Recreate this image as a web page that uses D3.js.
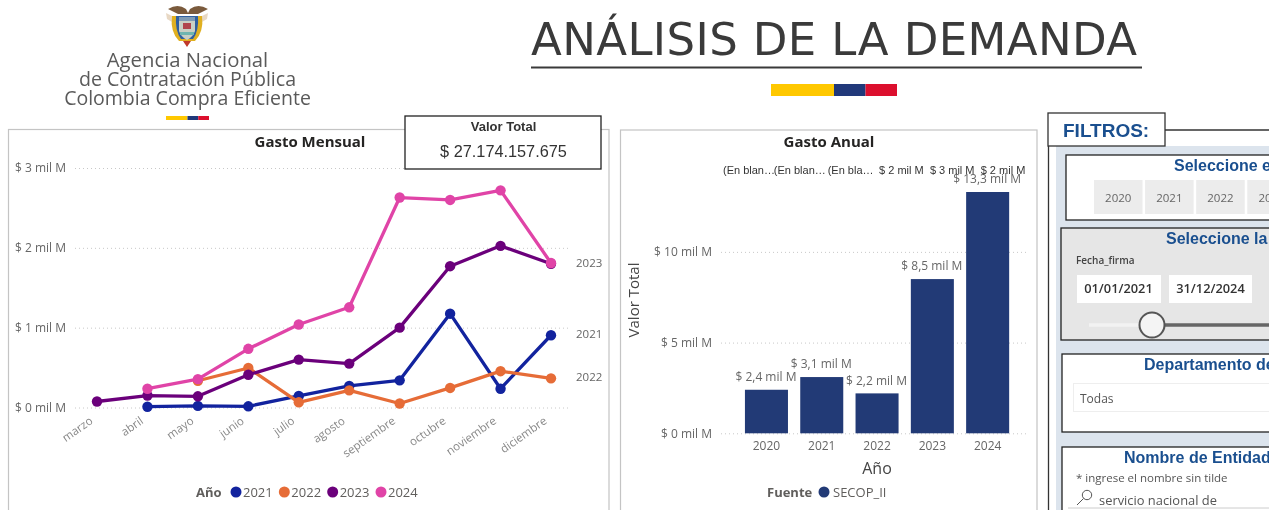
<!DOCTYPE html>
<html>
<head>
<meta charset="utf-8">
<script src="https://cdn.jsdelivr.net/npm/d3@7"></script>
<style>
  html, body { margin: 0; padding: 0; background: #fff; overflow: hidden; }
  svg { display: block; filter: blur(0.45px); }
  text { font-family: "Open Sans", "Noto Sans", sans-serif; }
  .arial { font-family: "Liberation Sans", Arial, sans-serif; }
  .grid line { stroke: #c8c8c8; stroke-dasharray: 1 3; }
  .axis text { fill: #666; font-size: 12px; }
</style>
</head>
<body>
<script>
const months = ["marzo", "abril", "mayo", "junio", "julio", "agosto", "septiembre", "octubre", "noviembre", "diciembre"];
const values2021 = [null, 0.01, 0.02, 0.015, 0.145, 0.27, 0.34, 1.175, 0.235, 0.905];
const values2022 = [null, null, 0.335, 0.495, 0.065, 0.215, 0.05, 0.245, 0.455, 0.365];
const values2023 = [0.075, 0.15, 0.14, 0.41, 0.6, 0.55, 1.0, 1.77, 2.025, 1.8];
const values2024 = [null, 0.235, 0.355, 0.735, 1.04, 1.255, 2.63, 2.6, 2.72, 1.81];
const monthlyTicks = [0, 1, 2, 3];

const years = ["2020", "2021", "2022", "2023", "2024"];
const yearTotals = [2.4, 3.1, 2.2, 8.5, 13.3];
const yearlyTicks = [0, 5, 10];
const cardLabels = ["(En blan…", "(En blan…", "(En bla…", "$ 2 mil M", "$ 3 mil M", "$ 2 mil M"];

const sliceYears = ["2020", "2021", "2022", "2023"];

const lineColors = { 2021: "#12239e", 2022: "#e66c37", 2023: "#6b007b", 2024: "#e044a7" };
const endLabelled = ["2021", "2022", "2023"];

const svg = d3.select("body").append("svg").attr("width", 1278).attr("height", 510);

function label(parent, str, x, y, size, fill, opts) {
  opts = opts || {};
  return parent.append("text")
    .attr("class", opts.cls || null)
    .attr("x", x)
    .attr("y", y)
    .attr("dy", "0.35em")
    .attr("font-size", size)
    .attr("font-weight", opts.weight || null)
    .attr("text-anchor", opts.anchor || "start")
    .attr("fill", fill)
    .text(str);
}

function box(parent, x, y, w, h, fill, stroke, sw) {
  return parent.append("rect")
    .attr("x", x).attr("y", y).attr("width", w).attr("height", h)
    .attr("fill", fill).attr("stroke", stroke || "none").attr("stroke-width", sw || 0);
}

function flag(parent, x, y, w, h) {
  box(parent, x, y, w / 2, h, "#ffc800");
  box(parent, x + w / 2, y, w / 4, h, "#21397a");
  box(parent, x + (w * 3) / 4, y, w / 4, h, "#dc0f2e");
}

// Header
const emblem = svg.append("g");
emblem.append("path").attr("d", "M168 9 Q178 3 186 9 L188 13 L190 9 Q198 3 208 9 L198 14 L178 14 Z").attr("fill", "#7a5a3c");
emblem.append("path").attr("d", "M166 13 L174 17 L172 22 L167 19 Z").attr("fill", "#e8d8c4");
emblem.append("path").attr("d", "M208 13 L200 17 L202 22 L207 19 Z").attr("fill", "#e8d8c4");
emblem.append("path").attr("d", "M172 16 L202 16 Q204 32 195 41 L179 41 Q170 32 172 16 Z").attr("fill", "#e0b020");
emblem.append("path").attr("d", "M176 16 L198 16 Q199 31 193 39 L181 39 Q175 31 176 16 Z").attr("fill", "#2f5fa0");
emblem.append("path").attr("d", "M179 17 L195 17 L195 31 Q193 37 187 40 Q181 37 179 31 Z").attr("fill", "#c9cfc4");
box(emblem, 179, 17, 16, 4, "#7f9bb5");
box(emblem, 183, 23, 8, 6, "#b0444c");
box(emblem, 180, 32, 14, 3, "#6fb5b0");
emblem.append("path").attr("d", "M183 41 L191 41 L187 47 Z").attr("fill", "#c0392b");

const logoLines = [
  { text: "Agencia Nacional", y: 60, size: 20.3 },
  { text: "de Contratación Pública", y: 79, size: 19.6 },
  { text: "Colombia Compra Eficiente", y: 98, size: 19.5 },
];
logoLines.forEach((l) => label(svg, l.text, 187.5, l.y, l.size, "#5a5a5a", { anchor: "middle", weight: 500 }));
flag(svg, 166, 116, 43, 4);

svg.append("text")
  .attr("x", 531).attr("y", 55)
  .attr("font-size", 45)
  .attr("fill", "#3a3a3a")
  .attr("textLength", 606)
  .attr("lengthAdjust", "spacing")
  .style("font-family", '"DejaVu Sans", sans-serif')
  .text("ANÁLISIS DE LA DEMANDA");
svg.append("line").attr("x1", 531).attr("x2", 1142).attr("y1", 67.5).attr("y2", 67.5).attr("stroke", "#3a3a3a").attr("stroke-width", 2);
flag(svg, 771, 84, 126, 12);

// Gasto Mensual
box(svg, 8.5, 129.5, 600.5, 400, "#fff", "#c4c4c4", 1.2);
label(svg, "Gasto Mensual", 310, 142, 15, "#252423", { anchor: "middle", weight: 700 });

const xMonth = d3.scalePoint().domain(months).range([97, 551]);
const yMonth = d3.scaleLinear().domain([0, 3]).range([407.5, 168]);

const monthlyAxis = svg.append("g").attr("class", "axis grid").attr("transform", "translate(75,0)")
  .call(d3.axisLeft(yMonth).tickValues(monthlyTicks).tickSize(-495).tickPadding(9).tickFormat((d) => "$ " + d + " mil M"));
monthlyAxis.select(".domain").remove();

const monthAxis = svg.append("g").attr("class", "axis").attr("transform", "translate(-9,410)")
  .call(d3.axisBottom(xMonth).tickSize(0));
monthAxis.select(".domain").remove();
monthAxis.selectAll("text")
  .attr("text-anchor", "end")
  .style("fill", "#888")
  .style("font-size", "11.5px")
  .attr("dx", "-3")
  .attr("dy", "0.9em")
  .attr("transform", "rotate(-35)");

const monthlySeries = [
  { year: "2021", values: values2021 },
  { year: "2022", values: values2022 },
  { year: "2023", values: values2023 },
  { year: "2024", values: values2024 },
];

const line = d3.line()
  .defined((d) => d.value !== null)
  .x((d) => xMonth(d.month))
  .y((d) => yMonth(d.value));

monthlySeries.forEach(function (s) {
  const pts = s.values.map((v, i) => ({ month: months[i], value: v }));
  const g = svg.append("g");
  g.append("path")
    .datum(pts)
    .attr("d", line)
    .attr("fill", "none")
    .attr("stroke", lineColors[s.year])
    .attr("stroke-width", 3.3)
    .attr("stroke-linejoin", "round");
  g.selectAll("circle")
    .data(pts.filter((d) => d.value !== null))
    .join("circle")
    .attr("cx", (d) => xMonth(d.month))
    .attr("cy", (d) => yMonth(d.value))
    .attr("r", 5.2)
    .attr("fill", lineColors[s.year]);
  if (endLabelled.includes(s.year)) {
    label(svg, s.year, xMonth("diciembre") + 25, yMonth(s.values[s.values.length - 1]) - 1, 11.5, "#666");
  }
});

label(svg, "Año", 196, 492, 13, "#605e5c", { weight: 700 });
const legendX = d3.scalePoint().domain(Object.keys(lineColors)).range([236, 381]);
Object.keys(lineColors).forEach(function (y) {
  svg.append("circle").attr("cx", legendX(y)).attr("cy", 492).attr("r", 5.5).attr("fill", lineColors[y]);
  label(svg, y, legendX(y) + 7, 492, 13, "#605e5c");
});

// Valor Total card
box(svg, 405, 116, 196, 53, "#fff", "#222", 1.3);
label(svg, "Valor Total", 503.5, 126, 13, "#333", { anchor: "middle", weight: 700, cls: "arial" });
label(svg, "$ 27.174.157.675", 503.5, 151, 16.3, "#333", { anchor: "middle", cls: "arial" });

// Gasto Anual
box(svg, 620.5, 130, 416.5, 400, "#fff", "#c4c4c4", 1.2);
label(svg, "Gasto Anual", 829, 142, 15, "#252423", { anchor: "middle", weight: 700 });

const xYear = d3.scaleBand().domain(years).range([738.8, 1015.3]).paddingInner(0.222).paddingOuter(0.111);
const yYear = d3.scaleLinear().domain([0, 13.3]).range([433.3, 192]);

const yearlyAxis = svg.append("g").attr("class", "axis grid").attr("transform", "translate(721,0)")
  .call(d3.axisLeft(yYear).tickValues(yearlyTicks).tickSize(-305).tickPadding(9).tickFormat((d) => "$ " + d + " mil M"));
yearlyAxis.select(".domain").remove();

const yearAxis = svg.append("g").attr("class", "axis").attr("transform", "translate(0,438)")
  .call(d3.axisBottom(xYear).tickSize(0));
yearAxis.select(".domain").remove();

svg.append("g").selectAll("rect")
  .data(yearTotals)
  .join("rect")
  .attr("x", (d, i) => xYear(years[i]))
  .attr("y", (d) => yYear(d))
  .attr("width", xYear.bandwidth())
  .attr("height", (d) => yYear(0) - yYear(d))
  .attr("fill", "#223a76");

svg.append("g").selectAll("text")
  .data(yearTotals)
  .join("text")
  .attr("x", (d, i) => xYear(years[i]) + xYear.bandwidth() / 2 - 0.5)
  .attr("y", (d) => yYear(d) - 13)
  .attr("dy", "0.35em")
  .attr("text-anchor", "middle")
  .attr("font-size", 12)
  .attr("fill", "#666")
  .text((d) => "$ " + String(d).replace(".", ",") + " mil M");

const xCard = d3.scalePoint().domain(d3.range(cardLabels.length)).range([749, 1003]);
svg.append("g").selectAll("text")
  .data(cardLabels)
  .join("text")
  .attr("class", "arial")
  .attr("x", (d, i) => xCard(i))
  .attr("y", 170)
  .attr("dy", "0.35em")
  .attr("text-anchor", "middle")
  .attr("font-size", 11)
  .attr("fill", "#333")
  .text((d) => d);

svg.append("text")
  .attr("transform", "translate(634,300) rotate(-90)")
  .attr("dy", "0.35em")
  .attr("text-anchor", "middle")
  .attr("font-size", 15)
  .attr("fill", "#444")
  .text("Valor Total");
label(svg, "Año", 877, 468, 16, "#444", { anchor: "middle" });
label(svg, "Fuente", 767, 492, 13, "#605e5c", { weight: 700 });
svg.append("circle").attr("cx", 824).attr("cy", 492).attr("r", 5.5).attr("fill", "#223a76");
label(svg, "SECOP_II", 833, 492, 13, "#605e5c");

// Filtros panel
box(svg, 1056, 146, 222, 364, "#dce4ed");
svg.append("line").attr("x1", 1048.5).attr("x2", 1048.5).attr("y1", 146).attr("y2", 510).attr("stroke", "#333").attr("stroke-width", 1.3);
svg.append("line").attr("x1", 1165).attr("x2", 1278).attr("y1", 130).attr("y2", 130).attr("stroke", "#333").attr("stroke-width", 1.3);
box(svg, 1048, 113, 117, 33, "#fff", "#333", 1.3);
label(svg, "FILTROS:", 1063, 130, 19, "#1a4f8f", { weight: 700, cls: "arial" });

const blue = "#1a4f8f";

box(svg, 1066, 155, 220, 65, "#fff", "#222", 1.3);
label(svg, "Seleccione el año", 1174, 165, 16, blue, { weight: 700, cls: "arial" });
const xSlice = d3.scaleBand().domain(d3.range(6)).range([1094, 1398]).paddingInner(0.05);
sliceYears.forEach(function (y, i) {
  box(svg, xSlice(i), 180, xSlice.bandwidth(), 34, "#ececec");
  label(svg, y, xSlice(i) + xSlice.bandwidth() / 2, 198, 11.5, "#666", { anchor: "middle" });
});

box(svg, 1061, 228, 225, 112, "#e6e6e6", "#222", 1.3);
label(svg, "Seleccione la fecha", 1166, 238.5, 16, blue, { weight: 700, cls: "arial" });
label(svg, "Fecha_firma", 1076, 260, 10, "#444", { weight: 600 });
box(svg, 1077, 275, 84, 28, "#fff");
box(svg, 1169, 275, 83, 28, "#fff");
label(svg, "01/01/2021", 1118.5, 289, 12.8, "#333", { anchor: "middle", weight: 600 });
label(svg, "31/12/2024", 1210.5, 289, 12.8, "#333", { anchor: "middle", weight: 600 });
svg.append("line").attr("x1", 1089).attr("x2", 1152).attr("y1", 325).attr("y2", 325).attr("stroke", "#f2f2f2").attr("stroke-width", 3.5);
svg.append("line").attr("x1", 1152).attr("x2", 1278).attr("y1", 325).attr("y2", 325).attr("stroke", "#666").attr("stroke-width", 3.5);
svg.append("circle").attr("cx", 1152).attr("cy", 325).attr("r", 12.5).attr("fill", "#f4f4f4").attr("stroke", "#555").attr("stroke-width", 2);

box(svg, 1062, 354, 224, 78, "#fff", "#222", 1.3);
label(svg, "Departamento de", 1144, 364.5, 16, blue, { weight: 700, cls: "arial" });
box(svg, 1073.5, 383.5, 215, 28, "#fff", "#eee", 1);
label(svg, "Todas", 1080, 398.5, 12, "#555");

box(svg, 1062, 447, 224, 70, "#fff", "#222", 1.3);
label(svg, "Nombre de Entidad", 1124, 457, 16, blue, { weight: 700, cls: "arial" });
label(svg, "* ingrese el nombre sin tilde", 1076, 478, 11.5, "#555");
svg.append("circle").attr("cx", 1087).attr("cy", 495).attr("r", 4.7).attr("fill", "none").attr("stroke", "#555").attr("stroke-width", 1);
svg.append("line").attr("x1", 1083.5).attr("x2", 1077).attr("y1", 498.5).attr("y2", 505).attr("stroke", "#555").attr("stroke-width", 1);
label(svg, "servicio nacional de", 1099, 500, 12.9, "#555");
svg.append("line").attr("x1", 1068).attr("x2", 1278).attr("y1", 508).attr("y2", 508).attr("stroke", "#ccc");

// screenshot was cut off on the right
box(svg, 1269, 100, 9, 410, "#fff");
</script>
</body>
</html>
